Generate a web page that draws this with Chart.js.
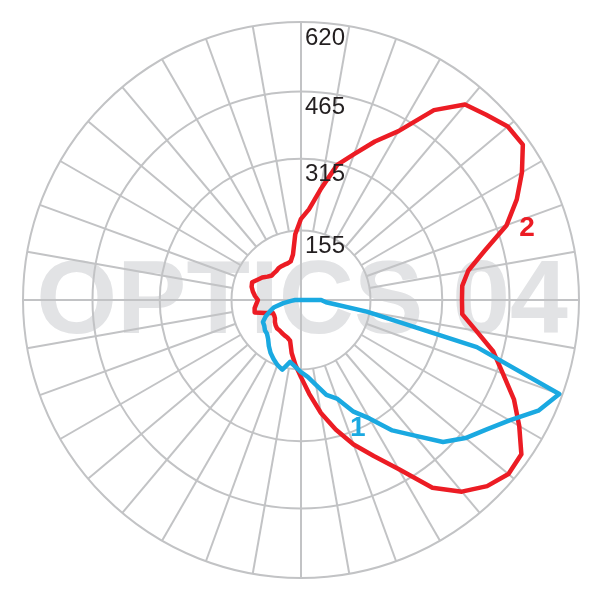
<!DOCTYPE html>
<html lang="en">
<head>
<meta charset="UTF-8">
<title>OPTICS 04 - polar intensity diagram</title>
<script src="https://cdn.jsdelivr.net/npm/chart.js@4.4.0/dist/chart.umd.min.js"></script>
<style>
    html, body {
        margin: 0;
        padding: 0;
        background: #ffffff;
    }
    .wrap {
        width: 600px;
        height: 600px;
    }
</style>
</head>
<body>
<div class="wrap"><canvas id="polar" width="600" height="600"></canvas></div>
<script>
    // direction in degrees: 0 = up, clockwise, every 5 degrees
    const angles = [
        0, 5, 10, 15, 20, 25, 30, 35, 40, 45, 50, 55, 60, 65, 70, 75, 80, 85,
        90, 95, 100, 105, 110, 115, 120, 125, 130, 135, 140, 145, 150, 155, 160, 165, 170, 175,
        180, 185, 190, 195, 200, 205, 210, 215, 220, 225, 230, 235, 240, 245, 250, 255, 260, 265,
        270, 275, 280, 285, 290, 295, 300, 305, 310, 315, 320, 325, 330, 335, 340, 345, 350, 355
    ];

    // curve "2" (red)
    const curve2 = [
        181, 203, 250, 312, 346, 390, 435, 517, 569, 584, 602, 604, 569, 531, 488, 424, 379, 361,
        359, 361, 397, 444, 479, 524, 562, 600, 604, 587, 558, 511, 435, 384, 343, 299, 256, 210,
        172, 145, 120, 94, 89, 87, 85, 83, 83, 80, 76, 71, 69, 69, 85, 107, 105, 100,
        96, 103, 109, 114, 116, 107, 100, 91, 85, 85, 85, 87, 87, 87, 87, 89, 103, 147
    ];

    // curve "1" (blue)
    const curve1 = [
        0, 0, 0, 0, 0, 0, 0, 0, 0, 0, 0, 0, 0, 0, 0, 0, 0, 0,
        45, 56, 149, 406, 613, 584, 537, 504, 479, 448, 395, 355, 305, 274, 234, 219, 192, 172,
        161, 149, 140, 161, 154, 145, 136, 125, 114, 107, 105, 100, 98, 87, 74, 62, 40, 22,
        13, 0, 0, 0, 0, 0, 0, 0, 0, 0, 0, 0, 0, 0, 0, 0, 0, 0
    ];

    const tickValues = [0, 155, 315, 465, 620];
    const tickLabels = ['', '155', '315', '465', '620'];
    const seriesNames = ['1', '2'];
    const watermark = 'OPTICS 04';

    const gridColor = '#c2c3c5';
    const redColor = '#ec1c24';
    const blueColor = '#1aa9e1';

    // point on the radial scale at a free angle (deg) and value
    function polarPoint(scale, deg, value) {
        const d = scale.getDistanceFromCenterForValue(value);
        const a = deg * Math.PI / 180;
        return { x: scale.xCenter + Math.sin(a) * d, y: scale.yCenter - Math.cos(a) * d };
    }

    const decorations = {
        id: 'decorations',
        beforeDraw(chart) {
            const r = chart.scales.r;
            const ctx = chart.ctx;
            ctx.save();
            ctx.font = 'bold 104px "Liberation Sans", Arial, sans-serif';
            ctx.fillStyle = '#e2e3e5';
            ctx.textAlign = 'center';
            ctx.textBaseline = 'alphabetic';
            ctx.fillText(watermark, r.xCenter + 1, r.yCenter + 33);
            ctx.restore();
        },
        beforeDatasetsDraw(chart) {
            // spokes every 10 degrees, from the first ring out; the axes go through the centre
            const r = chart.scales.r;
            const ctx = chart.ctx;
            ctx.save();
            ctx.strokeStyle = gridColor;
            ctx.lineWidth = 2;
            angles.forEach((a, i) => {
                if (a % 10 !== 0) return;
                const from = (a % 90 === 0) ? 0 : tickValues[1];
                const p0 = r.getPointPositionForValue(i, from);
                const p1 = r.getPointPositionForValue(i, r.max);
                ctx.beginPath();
                ctx.moveTo(p0.x, p0.y);
                ctx.lineTo(p1.x, p1.y);
                ctx.stroke();
            });
            ctx.restore();
        },
        afterDatasetsDraw(chart) {
            const r = chart.scales.r;
            const ctx = chart.ctx;
            ctx.save();
            ctx.font = '24px "Liberation Sans", Arial, sans-serif';
            ctx.fillStyle = '#231f20';
            ctx.textAlign = 'left';
            ctx.textBaseline = 'middle';
            tickValues.forEach((v, i) => {
                if (!tickLabels[i]) return;
                const y = r.yCenter - r.getDistanceFromCenterForValue(v) + 16;
                ctx.fillText(tickLabels[i], r.xCenter + 4, y);
            });

            ctx.font = 'bold 28px "Liberation Sans", Arial, sans-serif';
            ctx.textAlign = 'center';
            let p = polarPoint(r, 156, 312);
            ctx.fillStyle = blueColor;
            ctx.fillText(seriesNames[0], p.x, p.y);
            p = polarPoint(r, 72.3, 529);
            ctx.fillStyle = redColor;
            ctx.fillText(seriesNames[1], p.x, p.y);
            ctx.restore();
        }
    };

    new Chart(document.getElementById('polar'), {
        type: 'radar',
        data: {
            labels: angles.map(a => a + '°'),
            datasets: [
                {
                    label: seriesNames[0],
                    data: curve1,
                    borderColor: blueColor,
                    borderWidth: 4.5,
                    borderJoinStyle: 'round',
                    fill: false,
                    pointRadius: 0,
                    tension: 0
                },
                {
                    label: seriesNames[1],
                    data: curve2,
                    borderColor: redColor,
                    borderWidth: 4.5,
                    borderJoinStyle: 'round',
                    fill: false,
                    pointRadius: 0,
                    tension: 0
                }
            ]
        },
        options: {
            responsive: false,
            animation: false,
            layout: {
                padding: { left: 23, right: 21, top: 21, bottom: 21 }
            },
            plugins: {
                legend: { display: false },
                tooltip: { enabled: false }
            },
            scales: {
                r: {
                    min: 0,
                    max: 620,
                    afterBuildTicks: scale => {
                        scale.ticks = tickValues.map(v => ({ value: v }));
                    },
                    grid: {
                        color: gridColor,
                        lineWidth: 2,
                        circular: true
                    },
                    angleLines: { display: false },
                    pointLabels: { display: false },
                    ticks: { display: false }
                }
            }
        },
        plugins: [decorations]
    });
</script>
</body>
</html>
